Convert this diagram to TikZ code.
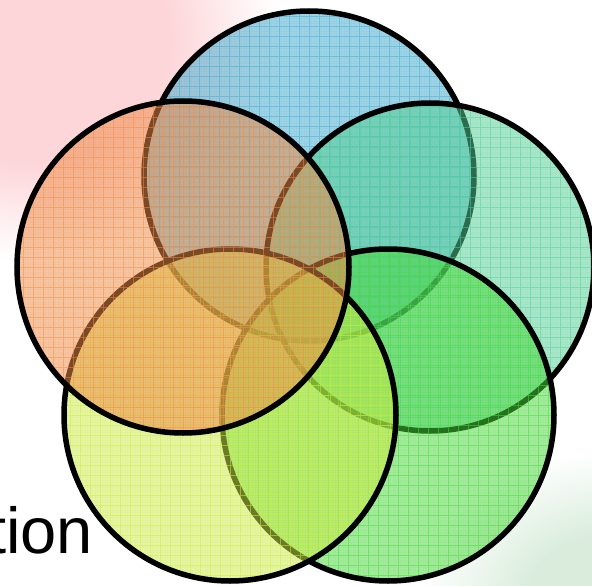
\documentclass[tikz,border=0pt]{standalone}
\usepackage{fontspec}
\setmainfont{Liberation Sans}
\definecolor{cblue}{RGB}{65,172,208}
\definecolor{cteal}{RGB}{85,210,150}
\definecolor{clime}{RGB}{75,220,60}
\definecolor{cyel}{RGB}{208,238,70}
\definecolor{corng}{RGB}{242,142,72}
\definecolor{pk}{RGB}{253,214,217}
\definecolor{gr}{RGB}{218,237,221}
\pgfdeclareradialshading{pinkblob}{\pgfpoint{0bp}{0bp}}{color(0bp)=(pk); color(14bp)=(pk); color(25bp)=(white); color(50bp)=(white)}
\pgfdeclareradialshading{greenblob}{\pgfpoint{0bp}{0bp}}{color(0bp)=(gr); color(11bp)=(gr); color(25bp)=(white); color(50bp)=(white)}
\tikzset{
  venn/.style={circle, inner sep=0pt, minimum size=#1, line width=5.5pt, draw=black},
  vennfill/.style={fill=#1, fill opacity=0.5,
    path picture={
      \draw[#1!80!black, line width=0.5pt, opacity=0.07, step=2.5pt]
        (path picture bounding box.south west) grid (path picture bounding box.north east);
      \draw[#1, line width=0.9pt, opacity=0.5, step=10pt]
        (path picture bounding box.south west) grid (path picture bounding box.north east);
    }},
  bigtext/.style={anchor=base west, inner sep=0pt, font=\fontsize{65}{70}\selectfont}
}
\begin{document}
\begin{tikzpicture}[x=1pt,y=-1pt]
  \useasboundingbox (0,0) rectangle (592,586);
  \fill[white] (0,0) rectangle (592,586);
  \begin{scope}
    \clip (0,0) rectangle (592,586);
    \shade[shading=pinkblob] (30,40) ellipse [x radius=250, y radius=220];
    \shade[shading=greenblob] (610,600) ellipse [x radius=190, y radius=150];
  \end{scope}
  \node[bigtext] (tion) at (-12,553) {tion};
  \node[venn=330pt, vennfill=cblue] (blue) at (309,176) {};
  \node[venn=328pt, vennfill=cteal] (teal) at (430,267) {};
  \node[venn=332pt, vennfill=clime] (lime) at (388,415) {};
  \node[venn=332pt, vennfill=cyel] (yellow) at (230,415) {};
  \node[venn=332pt, vennfill=corng] (orange) at (183,267) {};
\end{tikzpicture}
\end{document}
